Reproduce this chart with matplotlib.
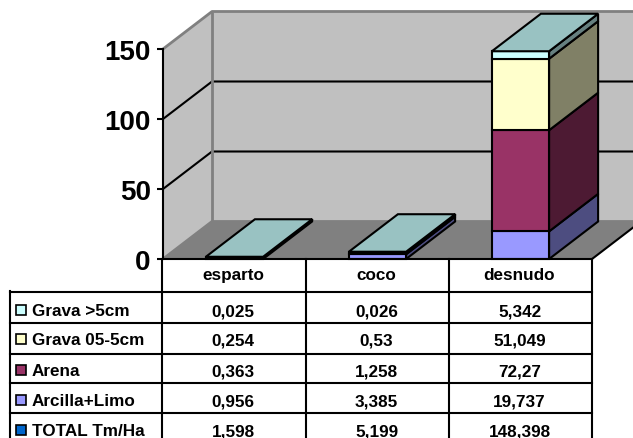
import matplotlib
matplotlib.use("Agg")
import matplotlib.pyplot as plt
from matplotlib.patches import Polygon, Rectangle

plt.rcParams['font.family'] = ['Liberation Sans', 'DejaVu Sans']
plt.rcParams['font.weight'] = 'bold'

categorias = ["esparto", "coco", "desnudo"]
grava_gruesa = [0.025, 0.026, 5.342]
grava_fina = [0.254, 0.53, 51.049]
arena = [0.363, 1.258, 72.27]
arcilla = [0.956, 3.385, 19.737]

# filas de la tabla, en el orden en que se listan
filas = ["Grava >5cm", "Grava 05-5cm", "Arena", "Arcilla+Limo", "TOTAL Tm/Ha"]
textos = [["0,025", "0,026", "5,342"],
          ["0,254", "0,53", "51,049"],
          ["0,363", "1,258", "72,27"],
          ["0,956", "3,385", "19,737"],
          ["1,598", "5,199", "148,398"]]
colores_fila = ["#CCFFFF", "#FFFFCC", "#993366", "#9999FF", "#0066CC"]

# de abajo hacia arriba: valores, frente, lateral
pila = [(arcilla, "#9999FF", "#4D4D80"),
        (arena, "#993366", "#4D1A33"),
        (grava_fina, "#FFFFCC", "#808066"),
        (grava_gruesa, "#CCFFFF", "#668080")]
color_tapa = "#99C2C2"

W, H = 633, 439
fig = plt.figure(figsize=(W / 100, H / 100), dpi=100)
ax = fig.add_axes([163 / W, 1 - 260 / H, 429 / W, 210 / H])
ax.set_xlim(0, 3)
ax.set_ylim(0, 150)
ax.patch.set_visible(False)

# fondo en perspectiva: desplazamiento de profundidad en unidades de datos
dx = 49 / 143.0
dy = 37.5 / 1.4
ymax = 150


def poli(puntos, color, borde="none", lw=0, z=1):
    ax.add_patch(Polygon(puntos, closed=True, facecolor=color, edgecolor=borde,
                         linewidth=lw, clip_on=False, zorder=z, joinstyle="miter"))


def linea(xs, ys, color="black", lw=1.5, z=2):
    ax.plot(xs, ys, color=color, lw=lw, clip_on=False, zorder=z, solid_capstyle="butt")


poli([(dx, dy), (3 + dx, dy), (3 + dx, ymax + dy), (dx, ymax + dy)], "#C0C0C0")
poli([(0, 0), (dx, dy), (dx, ymax + dy), (0, ymax)], "#C0C0C0")
poli([(0, 0), (3, 0), (3 + dx, dy), (dx, dy)], "#808080")

for v in [50, 100]:
    linea([0, dx, 3 + dx], [v, v + dy, v + dy])
linea([0, dx, 3 + dx], [ymax, ymax + dy, ymax + dy], "#808080", 2)
linea([dx, dx], [dy, ymax + dy], "#808080", 2)
linea([0, dx, 3 + dx], [0, dy, dy], "#808080", 2)
linea([3, 3 + dx], [0, dy], "black", 1.5)

# barras apiladas
ancho = 0.4
for i in range(len(categorias)):
    x0 = i + 0.5 - ancho / 2
    x1 = x0 + ancho
    base = 0
    for valores, frente, lateral in pila:
        tope = base + valores[i]
        poli([(x1, base), (x1 + dx, base + dy), (x1 + dx, tope + dy), (x1, tope)],
             lateral, "black", 1.5, 3)
        poli([(x0, base), (x1, base), (x1, tope), (x0, tope)],
             frente, "black", 1.5, 4)
        base = tope
    poli([(x0, base), (x1, base), (x1 + dx, base + dy), (x0 + dx, base + dy)],
         color_tapa, "black", 1.5, 5)

for lado in ["top", "right"]:
    ax.spines[lado].set_visible(False)
for lado in ["left", "bottom"]:
    ax.spines[lado].set_linewidth(1.5)
    ax.spines[lado].set_zorder(6)
ax.set_xticks([])
ax.set_yticks([0, 50, 100, 150])
ax.tick_params(axis="y", length=4.5, width=1.5, labelsize=20, pad=4.3)

# tabla de datos, en pixeles de la figura
tabla = fig.add_axes([0, 0, 1, 1])
tabla.set_xlim(0, W)
tabla.set_ylim(H, 0)
tabla.axis("off")

col_x = [162, 306, 449, 592]
fila_y = [292.5, 323.5, 354.5, 384.5, 414.5, 445]
lw_t = 1.5
for y in fila_y:
    tabla.plot([10, 592], [y, y], color="black", lw=lw_t)
tabla.plot([10, 10], [292, 445], color="black", lw=lw_t)
for x in col_x:
    tabla.plot([x, x], [260, 445], color="black", lw=lw_t)

for j, nombre in enumerate(categorias):
    tabla.text((col_x[j] + col_x[j + 1]) / 2 - 1, 276, nombre, ha="center", va="center", fontsize=12.3)

centros = [312, 341, 372, 402, 432]
for i, fila in enumerate(filas):
    yc = centros[i]
    tabla.add_patch(Rectangle((16, yc - 6), 10, 10, facecolor=colores_fila[i],
                              edgecolor="black", linewidth=1.2))
    tabla.text(32, yc, fila, ha="left", va="center", fontsize=12.3)
    for j in range(3):
        tabla.text((col_x[j] + col_x[j + 1]) / 2 - 1, yc, textos[i][j], ha="center", va="center", fontsize=12.3)

fig.savefig("out.png", dpi=100)
